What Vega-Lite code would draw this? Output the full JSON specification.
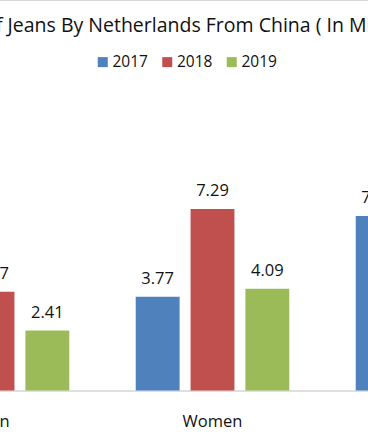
{
  "$schema": "https://vega.github.io/schema/vega-lite/v6.json",
  "width": 368,
  "height": 442.5,
  "autosize": {"type": "none"},
  "padding": 0,
  "background": "white",
  "title": {
    "text": "Import of Jeans By Netherlands From China ( In Million Pieces )",
    "anchor": "middle",
    "frame": "group",
    "font": "Open Sans",
    "fontSize": 19.5,
    "fontWeight": "normal",
    "color": "#111111",
    "baseline": "alphabetic",
    "offset": 0,
    "dx": 16,
    "dy": 51
  },
  "data": {
    "values": [
      {"category": "Men", "year": "2018", "value": 3.97},
      {"category": "Men", "year": "2019", "value": 2.41},
      {"category": "Women", "year": "2017", "value": 3.77},
      {"category": "Women", "year": "2018", "value": 7.29},
      {"category": "Women", "year": "2019", "value": 4.09},
      {"category": "Kids", "year": "2017", "value": 7.01}
    ]
  },
  "encoding": {
    "x": {
      "field": "category",
      "type": "nominal",
      "sort": ["Men", "Women", "Kids"],
      "scale": {"domain": ["Men", "Women", "Kids"], "range": [-117.5, 542.5], "paddingInner": 0.302, "paddingOuter": 0.151},
      "axis": {
        "orient": "bottom",
        "offset": -52,
        "domain": true,
        "domainColor": "#bfbfbf",
        "domainWidth": 1,
        "ticks": false,
        "tickSize": 0,
        "labelPadding": 22.5,
        "labelFont": "Open Sans",
        "labelFontSize": 16.5,
        "labelColor": "#111111",
        "labelAngle": 0,
        "title": null
      }
    },
    "xOffset": {
      "field": "year",
      "type": "nominal",
      "scale": {"domain": ["2017", "2018", "2019"], "paddingInner": 0.2, "paddingOuter": 0}
    },
    "y": {
      "field": "value",
      "type": "quantitative",
      "scale": {"domain": [-2.088, 15.683], "nice": false, "zero": false},
      "axis": {
        "orient": "left",
        "values": [-2.088, 15.683],
        "grid": true,
        "gridColor": "#d9d9d9",
        "gridWidth": 1,
        "domain": false,
        "ticks": false,
        "labels": false,
        "title": null
      }
    }
  },
  "layer": [
    {
      "mark": {"type": "bar"},
      "encoding": {
        "y2": {"datum": 0},
        "color": {
          "field": "year",
          "type": "nominal",
          "scale": {"domain": ["2017", "2018", "2019"], "range": ["#4F81BD", "#C0504D", "#9BBB59"]},
          "legend": {
            "orient": "none",
            "legendX": 95,
            "legendY": 54,
            "direction": "horizontal",
            "title": null,
            "symbolType": "square",
            "symbolSize": 100,
            "symbolStrokeWidth": 0,
            "labelFont": "Open Sans",
            "labelFontSize": 15.5,
            "labelColor": "#111111",
            "labelOffset": 2,
            "columnPadding": 11.5
          }
        }
      }
    },
    {
      "mark": {"type": "text", "baseline": "alphabetic", "dy": -12.5, "font": "Open Sans", "fontSize": 16.5, "color": "#111111"},
      "encoding": {
        "text": {"field": "value", "type": "quantitative", "format": ".2f"}
      }
    }
  ],
  "config": {"view": {"stroke": null}}
}
